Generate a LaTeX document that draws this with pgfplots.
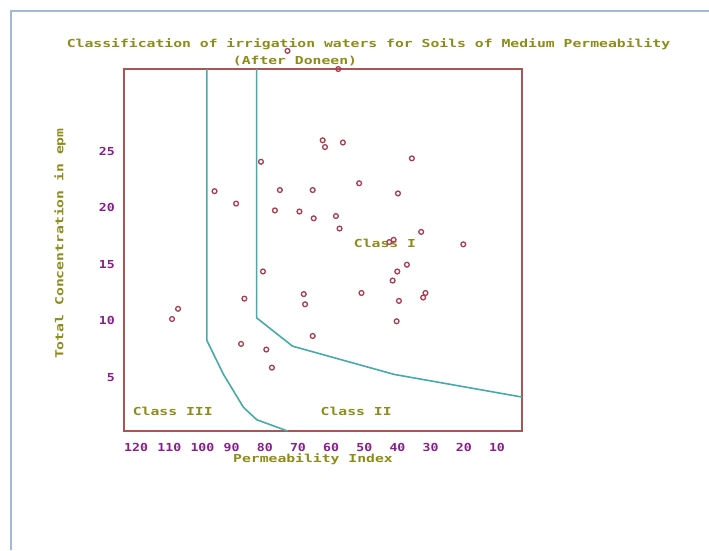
\documentclass[border=0pt]{standalone}
\usepackage{pgfplots}
\pgfplotsset{compat=1.18}
\usepackage{fontspec}
\newfontfamily\dos{DejaVu Sans Mono}[FakeStretch=1.34]
\newfontfamily\dostick{DejaVu Sans Mono}[FakeStretch=1.2]
\definecolor{olivet}{RGB}{140,140,25}
\definecolor{tickpurple}{RGB}{135,30,140}
\definecolor{boxred}{RGB}{170,85,85}
\definecolor{tealline}{RGB}{70,170,170}
\definecolor{markred}{RGB}{170,60,80}
\definecolor{framblue}{RGB}{160,185,225}
\begin{document}
\begin{tikzpicture}[x=1pt,y=1pt]
\useasboundingbox (-124,-119) rectangle (585,431);
\draw[framblue, line width=1.5pt] (-113,-119) -- (-113,420) -- (585,420);
\begin{axis}[
  at={(0pt,0pt)}, anchor=south west,
  scale only axis, width=398pt, height=362pt,
  xmin=0, xmax=120, x dir=reverse, ymin=0, ymax=32,
  clip=false,
  axis line style={draw=boxred, line width=1.3pt},
  major tick length=0pt,
  xtick={120,110,100,90,80,70,60,50,40,30,20,10},
  xticklabels={120,110,100,90,80,70,60,50,40,30,20,10},
  ytick={5,10,15,20,25},
  yticklabels={5,10,15,20,25},
  tick label style={font=\dostick\bfseries\fontsize{11}{11}\selectfont, text=tickpurple},
  xticklabel style={anchor=north west, inner sep=0pt, yshift=-12pt},
  yticklabel style={anchor=east, inner sep=0pt, xshift=-9pt, yshift=-3pt},
]
\addplot[tealline, line width=1.6pt] coordinates {(95,32) (95,8) (90,5) (84,2.1) (80,1) (70.7,0)};
\addplot[tealline, line width=1.6pt] coordinates {(80,32) (80,10) (69.2,7.5) (38.5,5) (0,3)};
\addplot[only marks, mark=o, mark size=2.4pt, draw=markred, line width=1.3pt] coordinates {
(70.7,33.6) (55.4,32.0) (60.1,25.7) (59.4,25.1) (54.0,25.5) (33.2,24.1) (78.7,23.8)
(49.1,21.9) (37.4,21.0) (92.7,21.2) (73.0,21.3) (63.1,21.3) (86.2,20.1) (74.5,19.5)
(67.1,19.4) (62.8,18.8) (56.1,19.0) (55.0,17.9) (30.4,17.6) (38.7,16.9) (40.0,16.7)
(17.7,16.5) (34.7,14.7) (37.6,14.1) (78.1,14.1) (39.0,13.3) (65.8,12.1) (48.4,12.2)
(29.1,12.2) (29.8,11.8) (83.7,11.7) (37.1,11.5) (65.4,11.2) (103.7,10.8) (105.5,9.9)
(37.8,9.7) (63.1,8.4) (84.7,7.7) (77.1,7.2) (75.4,5.6)
};
\node[font=\dos\bfseries\fontsize{11}{11}\selectfont, text=olivet] at (axis cs:105.3,1.7) {Class III};
\node[font=\dos\bfseries\fontsize{11}{11}\selectfont, text=olivet] at (axis cs:50,1.7) {Class II};
\node[font=\dos\bfseries\fontsize{11}{11}\selectfont, text=olivet] at (axis cs:41.3,16.6) {Class I};
\end{axis}
\node[font=\dos\bfseries\fontsize{11}{11}\selectfont, text=olivet] at (244.5,387) {Classification of irrigation waters for Soils of Medium Permeability};
\node[font=\dos\bfseries\fontsize{11}{11}\selectfont, text=olivet] at (171,370) {(After Doneen)};
\node[font=\dos\bfseries\fontsize{11}{11}\selectfont, text=olivet] at (189,-28.5) {Permeability Index};
\node[font=\dos\bfseries\fontsize{11}{11}\selectfont, text=olivet, rotate=90] at (-64,187.4) {Total Concentration in epm};
\end{tikzpicture}
\end{document}
